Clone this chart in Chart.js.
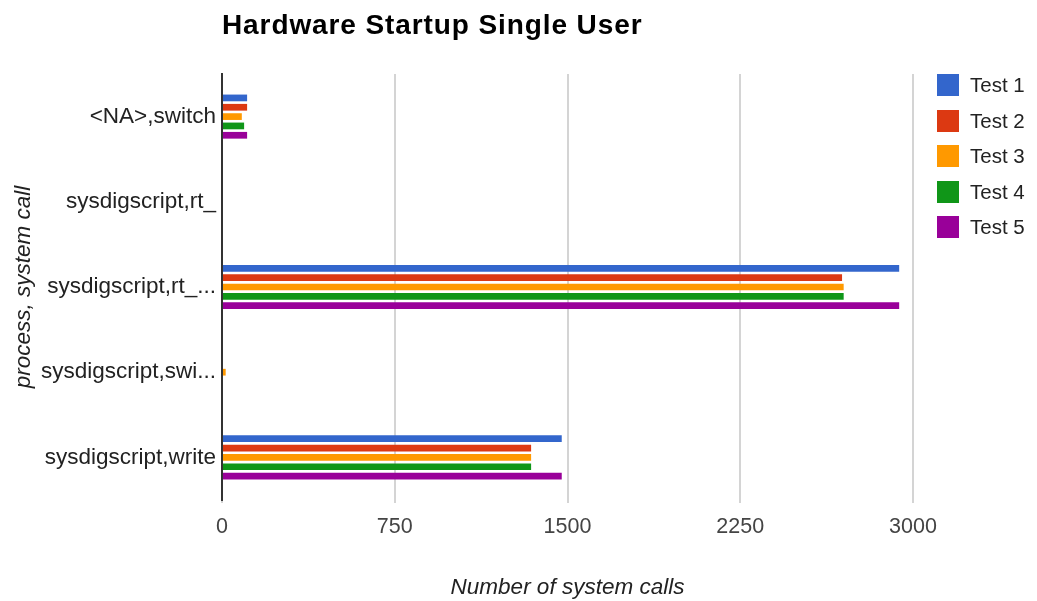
<!DOCTYPE html>
<html>
<head>
<meta charset="utf-8">
<title>Hardware Startup Single User</title>
<script src="https://cdn.jsdelivr.net/npm/chart.js@4/dist/chart.umd.min.js"></script>
<style>
  body { margin: 0; background: #fff; }
  #wrap { position: relative; width: 1037px; height: 601px; }
  #legend { position: absolute; left: 937px; top: 74px; margin: 0; padding: 0; list-style: none;
    font-family: "Liberation Sans", Arial, sans-serif; font-size: 20.5px; color: #222; }
  #legend li { height: 22px; margin-bottom: 13.5px; display: flex; align-items: center; }
  #legend span.box { width: 22px; height: 22px; margin-right: 11px; box-sizing: border-box; }
</style>
</head>
<body>
<div id="wrap">
  <canvas id="barChart" width="1037" height="601"></canvas>
  <ul id="legend"></ul>
</div>
<script>
let categories = [
  "<NA>,switch",
  "sysdigscript,rt_",
  "sysdigscript,rt_...",
  "sysdigscript,swi...",
  "sysdigscript,write",
];
let test1 = [109, 0, 2940, 0, 1475];
let test2 = [109, 0, 2692, 0, 1342];
let test3 = [86, 0, 2699, 16, 1342];
let test4 = [96, 0, 2699, 0, 1342];
let test5 = [109, 0, 2940, 0, 1475];
let seriesNames = ["Test 1", "Test 2", "Test 3", "Test 4", "Test 5"];
let seriesValues = [test1, test2, test3, test4, test5];
let seriesColors = ["#3366cc", "#dc3912", "#ff9900", "#109618", "#990099"];
let xTicks = [0, 750, 1500, 2250, 3000];

let chartTitle = "Hardware Startup Single User";
let font = "'Liberation Sans', Arial, sans-serif";

// title sits over the plot area, left aligned with the axis line
const titlePlugin = {
  id: "leftTitle",
  afterDraw(chart) {
    const ctx = chart.ctx;
    ctx.save();
    ctx.font = "bold 28px " + font;
    ctx.letterSpacing = "0.9px";
    ctx.fillStyle = "#000";
    ctx.textBaseline = "middle";
    ctx.fillText(chartTitle, chart.chartArea.left, 26);
    ctx.restore();
  },
};

const datasets = seriesNames.map(function (name, i) {
  return {
    label: name,
    data: seriesValues[i],
    backgroundColor: seriesColors[i],
    borderWidth: 0,
    categoryPercentage: 0.548,
    barPercentage: 0.72,
  };
});

const config = {
  type: "bar",
  data: { labels: categories, datasets: datasets },
  options: {
    indexAxis: "y",
    responsive: false,
    animation: false,
    devicePixelRatio: 1,
    layout: { padding: { top: 74, right: 124, bottom: 0, left: 0 } },
    plugins: {
      legend: { display: false },
      tooltip: { enabled: false },
    },
    scales: {
      x: {
        min: 0,
        max: 3000,
        afterBuildTicks(scale) {
          scale.ticks = xTicks.map(function (v) {
            return { value: v };
          });
        },
        afterFit(scale) {
          scale.height = 101;
          scale.paddingLeft = 0;
          scale.paddingRight = 0;
        },
        grid: { color: "#d4d4d4", lineWidth: 2, tickLength: 3 },
        border: { display: false },
        ticks: {
          color: "#444",
          font: { family: font, size: 21.5 },
          padding: 11,
          maxRotation: 0,
          callback: function (value) {
            return String(value);
          },
        },
        title: {
          display: true,
          text: "Number of system calls",
          color: "#222",
          font: { family: font, size: 22.5, style: "italic" },
          padding: { top: 5, bottom: 0 },
        },
      },
      y: {
        afterFit(scale) {
          scale.width = 222;
          scale.paddingTop = 0;
          scale.paddingBottom = 0;
        },
        grid: { display: false, drawTicks: false },
        border: { display: true, color: "#333", width: 2 },
        ticks: {
          color: "#222",
          font: { family: font, size: 22.5 },
          padding: 6,
          autoSkip: false,
        },
        title: {
          display: true,
          text: "process, system call",
          color: "#222",
          font: { family: font, size: 22.5, style: "italic" },
          padding: { top: 10, bottom: 0 },
        },
      },
    },
  },
  plugins: [titlePlugin],
};

const myChart = new Chart(document.getElementById("barChart"), config);

// legend list built from the same series
let legend = document.getElementById("legend");
seriesNames.forEach(function (name, i) {
  let li = document.createElement("li");
  li.innerHTML = `<span class="box" style="background:${seriesColors[i]}"></span>${name}`;
  legend.appendChild(li);
});
</script>
</body>
</html>
